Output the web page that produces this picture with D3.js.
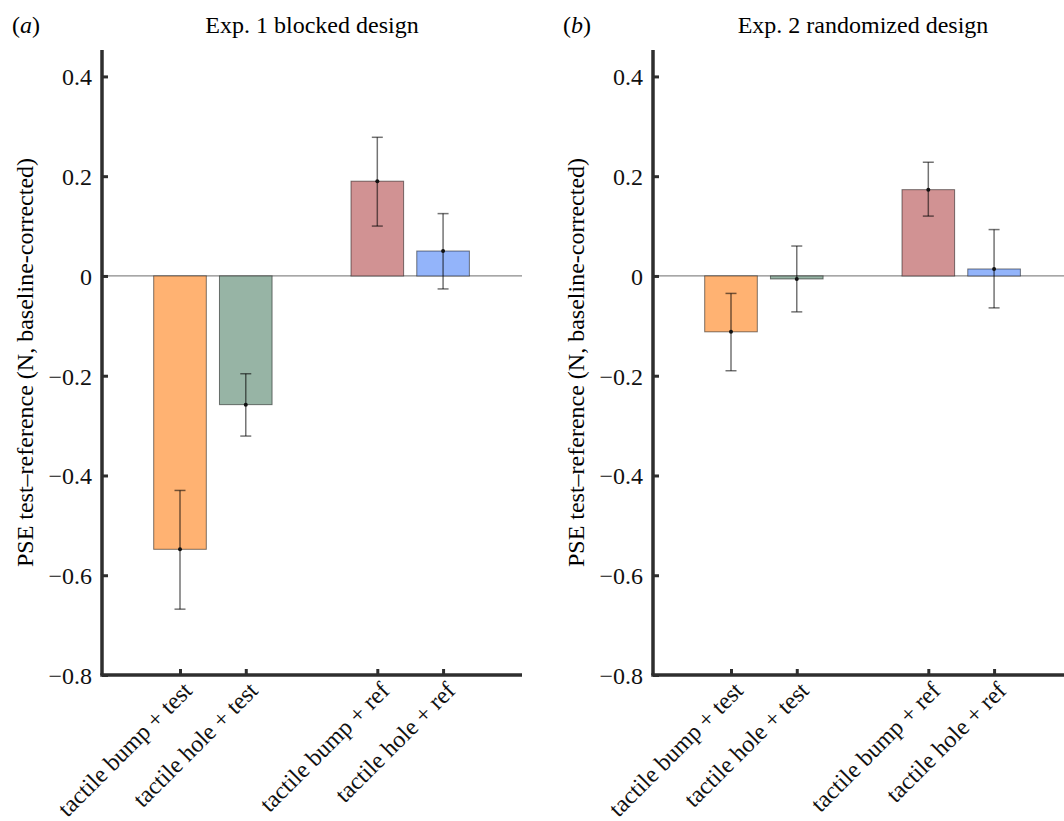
<!DOCTYPE html>
<html>
<head>
<meta charset="utf-8">
<script src="https://cdn.jsdelivr.net/npm/d3@7"></script>
<style>
  body { margin: 0; background: #fff; }
  svg { display: block; font-family: "Liberation Serif", "Times New Roman", serif; }
</style>
</head>
<body>
<div id="chart"></div>
<script>
// categories and their slot on the x axis (gap between test and ref groups)
const categories = ["tactile bump + test", "tactile hole + test", "tactile bump + ref", "tactile hole + ref"];
const slots = [1, 2, 4, 5];
const barColors = ["#ffb272", "#97b4a5", "#d19293", "#93b4fa"];

// Exp. 1 blocked design
const exp1Mean = [-0.548, -0.258, 0.190, 0.050];
const exp1Low  = [-0.668, -0.321, 0.100, -0.026];
const exp1High = [-0.430, -0.196, 0.278, 0.125];

// Exp. 2 randomized design
const exp2Mean = [-0.112, -0.006, 0.173, 0.014];
const exp2Low  = [-0.190, -0.072, 0.120, -0.064];
const exp2High = [-0.035, 0.060, 0.228, 0.093];

const yTicks = [0.4, 0.2, 0, -0.2, -0.4, -0.6, -0.8];
const yLabel = "PSE test\u2013reference (N, baseline-corrected)";

const svg = d3.select("#chart")
  .append("svg")
  .attr("width", 1064)
  .attr("height", 821);

const x = d3.scaleLinear().domain([-0.186, 6.2]).range([102, 522]);
const y = d3.scaleLinear().domain([-0.8, 0.453]).range([675, 50]);
const barW = x(0.8) - x(0);
const axisColor = "#2e2e2e";
const serif = "'Liberation Serif', 'Times New Roman', serif";

const fmt = v => v === 0 ? "0" : d3.format(".1f")(v).replace("-", "\u2013");

const drawPanel = (offset, letter, title, mean, low, high) => {
  const g = svg.append("g").attr("transform", `translate(${offset},0)`);
  const data = categories.map((c, i) => ({
    cat: c, slot: slots[i], mean: mean[i], low: low[i], high: high[i], color: barColors[i]
  }));

  // panel letter and title
  const lt = g.append("text").attr("x", 12).attr("y", 33).style("font-size", "24px");
  lt.append("tspan").text("(");
  lt.append("tspan").style("font-style", "italic").text(letter);
  lt.append("tspan").text(")");

  g.append("text")
    .attr("x", (x.range()[0] + x.range()[1]) / 2)
    .attr("y", 33)
    .attr("text-anchor", "middle")
    .style("font-size", "24px")
    .text(title);

  // zero line
  g.append("line")
    .attr("x1", x.range()[0]).attr("x2", x.range()[1])
    .attr("y1", y(0)).attr("y2", y(0))
    .attr("stroke", "#8a8a8a")
    .attr("stroke-width", 1.2);

  // bars
  g.selectAll(".bar")
    .data(data)
    .join("rect")
    .attr("class", "bar")
    .attr("x", d => x(d.slot) - barW / 2)
    .attr("width", barW)
    .attr("y", d => y(Math.max(0, d.mean)))
    .attr("height", d => Math.abs(y(d.mean) - y(0)))
    .attr("fill", d => d.color)
    .attr("stroke", "rgba(0,0,0,0.5)")
    .attr("stroke-width", 1);

  // error bars
  const eb = g.selectAll(".err")
    .data(data)
    .join("g")
    .attr("class", "err")
    .attr("stroke", "rgba(0,0,0,0.55)")
    .attr("stroke-width", 1.5);
  eb.append("line")
    .attr("x1", d => x(d.slot)).attr("x2", d => x(d.slot))
    .attr("y1", d => y(d.low)).attr("y2", d => y(d.high));
  eb.append("line")
    .attr("x1", d => x(d.slot) - 5.5).attr("x2", d => x(d.slot) + 5.5)
    .attr("y1", d => y(d.low)).attr("y2", d => y(d.low));
  eb.append("line")
    .attr("x1", d => x(d.slot) - 5.5).attr("x2", d => x(d.slot) + 5.5)
    .attr("y1", d => y(d.high)).attr("y2", d => y(d.high));
  g.selectAll(".dot")
    .data(data)
    .join("circle")
    .attr("class", "dot")
    .attr("cx", d => x(d.slot))
    .attr("cy", d => y(d.mean))
    .attr("r", 2)
    .attr("fill", "#111");

  // y axis
  const yAxis = g.append("g")
    .attr("transform", `translate(${x.range()[0]},0)`)
    .call(d3.axisRight(y).tickValues(yTicks).tickSize(6).tickFormat(""));
  yAxis.select(".domain").attr("d", `M0,${y.range()[1]}V${y.range()[0]}`)
    .attr("stroke", axisColor).attr("stroke-width", 3.5);
  yAxis.selectAll(".tick line").attr("stroke", axisColor).attr("stroke-width", 3);
  yAxis.selectAll(".tick").append("text")
    .attr("x", -10)
    .attr("dy", "0.35em")
    .attr("text-anchor", "end")
    .attr("fill", "#111")
    .style("font-size", "24px")
    .style("font-family", serif)
    .text(d => fmt(d));

  // x axis
  const xAxis = g.append("g")
    .attr("transform", `translate(0,${y.range()[0]})`)
    .call(d3.axisTop(x).tickValues(slots).tickSize(6).tickFormat(""));
  xAxis.select(".domain").attr("d", `M${x.range()[0] - 1.75},0H${x.range()[1]}`)
    .attr("stroke", axisColor).attr("stroke-width", 3.5);
  xAxis.selectAll(".tick line").attr("stroke", axisColor).attr("stroke-width", 3);
  xAxis.selectAll(".tick").append("text")
    .attr("transform", "translate(13,17) rotate(-45)")
    .attr("text-anchor", "end")
    .attr("fill", "#111")
    .style("font-size", "24px")
    .style("font-family", serif)
    .text((d, i) => categories[i]);

  // y axis title
  g.append("text")
    .attr("transform", `translate(33,${(y.range()[0] + y.range()[1]) / 2}) rotate(-90)`)
    .attr("text-anchor", "middle")
    .style("font-size", "24px")
    .text(yLabel);
};

drawPanel(0, "a", "Exp. 1 blocked design", exp1Mean, exp1Low, exp1High);
drawPanel(551, "b", "Exp. 2 randomized design", exp2Mean, exp2Low, exp2High);
</script>
</body>
</html>
